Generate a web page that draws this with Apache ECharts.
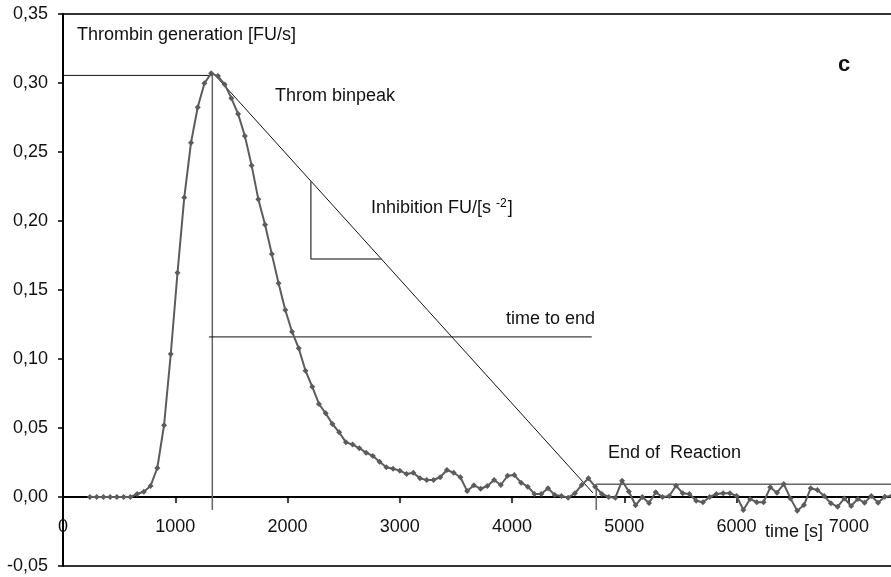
<!DOCTYPE html>
<html>
<head>
<meta charset="utf-8">
<script src="https://cdn.jsdelivr.net/npm/echarts@6/dist/echarts.min.js"></script>
<style>
html,body{margin:0;padding:0;background:#fff;}
#chart{width:891px;height:577px;}
</style>
</head>
<body>
<div id="chart"></div>
<script>
// Time points [s]
var times = [240,300,360,420,480,540,600,660,720,780,840,900,960,1020,1080,1140,1200,1260,1320,1380,
1440,1500,1560,1620,1680,1740,1800,1860,1920,1980,2040,2100,2160,2220,2280,2340,2400,2460,2520,2580,
2640,2700,2760,2820,2880,2940,3000,3060,3120,3180,3240,3300,3360,3420,3480,3540,3600,3660,3720,3780,
3840,3900,3960,4020,4080,4140,4200,4260,4320,4380,4440,4500,4560,4620,4680,4740,4800,4860,4920,4980,
5040,5100,5160,5220,5280,5340,5400,5460,5520,5580,5640,5700,5760,5820,5880,5940,6000,6060,6120,6180,
6240,6300,6360,6420,6480,6540,6600,6660,6720,6780,6840,6900,6960,7020,7080,7140,7200,7260,7320,7380];
// Thrombin generation [FU/s]
var thrombin = [0,0,0,0,0,0,0,0.0022,0.0038,0.008,0.021,0.052,0.1036,0.1625,0.217,0.2567,0.2824,0.2998,0.307,0.305,
0.299,0.289,0.2775,0.2616,0.2403,0.2157,0.1973,0.176,0.1549,0.1355,0.1198,0.1077,0.0915,0.0799,0.0674,0.0606,0.0529,0.0469,0.0396,0.038,
0.0353,0.0321,0.0297,0.0256,0.0215,0.0205,0.0191,0.0167,0.0176,0.0135,0.0123,0.0123,0.0143,0.0196,0.0176,0.0143,0.0043,0.0085,0.006,0.008,
0.0123,0.0087,0.0154,0.0159,0.0104,0.0075,0.0022,0.0022,0.0063,0.0014,0.0007,-0.0005,0.0027,0.0087,0.0135,0.0075,0.0022,0,-0.0005,0.0118,
0.004,-0.006,0,-0.0043,0.0034,0,0.0007,0.0082,0.0027,0.0022,-0.0027,-0.0038,0,0.0022,0.0027,0.0027,0.0007,-0.0094,-0.0014,-0.0038,
-0.0038,0.007,0.0031,0.0094,-0.001,-0.0099,-0.0058,0.0063,0.0051,0.0007,-0.0046,-0.007,-0.001,-0.0065,-0.0014,-0.0041,0.0007,-0.0041,0.0002,0.0007];

// Annotation construction lines (data coordinates)
var peakLevel = [[0,0.3055],[1330,0.3055]];
var peakDrop = [[1330,0.307],[1330,-0.0095]];
var inhibitionLine = [[1340,0.307],[4720,0.003]];
var slopeTriangle = [[2208,0.2288],[2208,0.1725],[2838,0.1725]];
var timeToEnd = [[1300,0.116],[4710,0.116]];
var endOfReaction = [[4750,-0.0095],[4750,0.0092],[7500,0.0092]];

// Axis settings
var xMin = 0, xMax = 7500, xStep = 1000;
var yMin = -0.05, yMax = 0.35, yStep = 0.05;

var seriesData = times.map(function(t,i){return [t, thrombin[i]];});

var FONT = '"Liberation Sans", Arial, Helvetica, sans-serif';
function guide(data, color, width){
  return {type:'line', data:data, symbol:'none', silent:true, z:1,
    lineStyle:{color:color, width:width}, animation:false};
}

var chart = echarts.init(document.getElementById('chart'), null, {renderer:'canvas'});
chart.setOption({
  animation:false,
  backgroundColor:'#ffffff',
  textStyle:{fontFamily:FONT},
  grid:{left:63, top:14, width:842, height:552, containLabel:false, outerBoundsMode:'none',
    show:true, borderColor:'#333', borderWidth:2, backgroundColor:'transparent'},
  xAxis:{type:'value', min:xMin, max:xMax, interval:xStep, position:'bottom', offset:-69,
    axisLine:{onZero:false, lineStyle:{color:'#000', width:2}},
    axisTick:{inside:false, length:6, lineStyle:{color:'#000', width:1.5}},
    axisLabel:{show:true, fontSize:18, color:'#111', fontFamily:FONT, margin:21, showMaxLabel:false, hideOverlap:false,
      formatter:function(v){return String(v);}},
    splitLine:{show:false}},
  yAxis:{type:'value', min:yMin, max:yMax, interval:yStep,
    axisLine:{show:true, onZero:false, lineStyle:{color:'#000', width:2}},
    axisTick:{show:true, inside:false, length:5, lineStyle:{color:'#000', width:1.5}},
    axisLabel:{fontSize:18, color:'#111', fontFamily:FONT, margin:15,
      formatter:function(v){return (Math.round(v*100)/100).toFixed(2).replace('.',',');}},
    splitLine:{show:false}},
  series:[
    guide(peakLevel,'#111',1),
    guide(peakDrop,'#666',1.5),
    guide(inhibitionLine,'#111',1),
    guide(slopeTriangle,'#555',1.5),
    guide(timeToEnd,'#111',1),
    guide(endOfReaction,'#666',1.5),
    {type:'line', data:seriesData, symbol:'diamond', symbolSize:6, z:5,
      itemStyle:{color:'#5c5c5c'}, lineStyle:{color:'#5c5c5c', width:2}, animation:false}
  ],
  graphic:[
    {type:'text', left:77, top:26, style:{text:'Thrombin generation [FU/s]', font:'18px '+FONT, fill:'#111'}},
    {type:'text', left:275, top:87, style:{text:'Throm binpeak', font:'18px '+FONT, fill:'#111'}},
    {type:'text', left:371, top:198, style:{
      text:'{a|Inhibition FU/[s }{s|-2}{a|]}',
      rich:{a:{fontSize:18, fontFamily:FONT, fill:'#111', color:'#111'}, s:{fontSize:12, fontFamily:FONT, color:'#111', verticalAlign:'top', padding:[0,1,8,0]}}}},
    {type:'text', left:506, top:310, style:{text:'time to end', font:'18px '+FONT, fill:'#111'}},
    {type:'text', left:608, top:444, style:{text:'End of  Reaction', font:'18px '+FONT, fill:'#111'}},
    {type:'text', left:838, top:54, style:{text:'c', font:'bold 22px '+FONT, fill:'#111'}},
    {type:'text', left:765, top:523, style:{text:'time [s]', font:'18px '+FONT, fill:'#111'}}
  ]
});
</script>
</body>
</html>
